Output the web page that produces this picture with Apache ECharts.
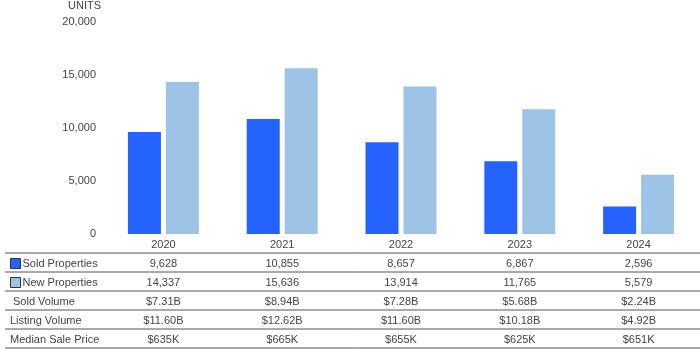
<!DOCTYPE html>
<html>
<head>
<meta charset="utf-8">
<script src="https://cdn.jsdelivr.net/npm/echarts@6/dist/echarts.min.js"></script>
<style>
  html, body { margin: 0; padding: 0; background: #fff; }
  #chart { width: 700px; height: 350px; }
</style>
</head>
<body>
<div id="chart"></div>
<script>
// Yearly housing summary: unit counts plotted as bars, with a data table below.
const years = ['2020', '2021', '2022', '2023', '2024'];
const soldProperties = [9628, 10855, 8657, 6867, 2596];
const newProperties = [14337, 15636, 13914, 11765, 5579];
const soldVolume = ['$7.31B', '$8.94B', '$7.28B', '$5.68B', '$2.24B'];
const listingVolume = ['$11.60B', '$12.62B', '$11.60B', '$10.18B', '$4.92B'];
const medianSalePrice = ['$635K', '$665K', '$655K', '$625K', '$651K'];
const yTicks = { min: 0, max: 20000, interval: 5000 };
const extraRowTitles = ['Sold Volume', 'Listing Volume', 'Median Sale Price'];

const FONT = 'Arial, "Liberation Sans", sans-serif';
const TEXT = '#444';
const SOLD_COLOR = '#2563FF';
const NEW_COLOR = '#9DC3E6';
const ROW_H = 19;
const fmt = v => v.toLocaleString('en-US');

const tableRows = [
  soldProperties.map(fmt),
  newProperties.map(fmt),
  soldVolume,
  listingVolume,
  medianSalePrice
];

function rowAxis(values, idx) {
  return {
    type: 'category',
    gridIndex: 0,
    position: 'bottom',
    offset: ROW_H * (idx + 1),
    data: values,
    axisLine: { show: false },
    axisTick: { show: false },
    axisLabel: {
      margin: 11, verticalAlign: 'middle', fontSize: 11,
      color: TEXT, fontFamily: FONT, interval: 0
    }
  };
}

const chart = echarts.init(document.getElementById('chart'), null, { renderer: 'canvas' });

// horizontal rules of the table
const ruleTop = 253;
const rules = [];
for (let i = 0; i <= tableRows.length; i++) {
  rules.push({
    type: 'line',
    shape: { x1: 5, y1: ruleTop + i * ROW_H, x2: 700, y2: ruleTop + i * ROW_H },
    style: { stroke: '#555', lineWidth: 1 },
    silent: true
  });
}
const titleX = [13, 10, 10];
const titles = extraRowTitles.map((t, i) => ({
  type: 'text',
  x: titleX[i],
  y: ruleTop + (i + 2) * ROW_H + ROW_H / 2 + 1.5,
  style: { text: t, fill: TEXT, font: '11px ' + FONT, verticalAlign: 'middle', align: 'left' },
  silent: true
}));

chart.setOption({
  animation: false,
  textStyle: { fontFamily: FONT },
  grid: { left: 104, right: 2, top: 20, bottom: 116 },
  legend: {
    orient: 'vertical',
    left: 10,
    top: 258,
    padding: 0,
    itemWidth: 10,
    itemHeight: 10,
    itemGap: 8,
    icon: 'rect',
    itemStyle: { borderColor: '#333', borderWidth: 1 },
    textStyle: { fontSize: 11, color: TEXT, fontFamily: FONT, padding: [0, 0, 0, -3] },
    data: ['Sold Properties', 'New Properties']
  },
  xAxis: [
    {
      type: 'category',
      gridIndex: 0,
      data: years,
      axisLine: { show: false },
      axisTick: { show: false },
      axisLabel: { margin: 11, verticalAlign: 'middle', fontSize: 11, color: TEXT, fontFamily: FONT }
    }
  ].concat(tableRows.map(rowAxis)),
  yAxis: {
    type: 'value',
    min: yTicks.min,
    max: yTicks.max,
    interval: yTicks.interval,
    name: 'UNITS',
    nameLocation: 'end',
    nameGap: 11,
    nameTextStyle: { fontSize: 11, color: TEXT, fontFamily: FONT, align: 'right', padding: [0, 3, 0, 0] },
    axisLine: { show: false },
    axisTick: { show: false },
    splitLine: { show: false },
    axisLabel: { margin: 8, fontSize: 11, color: TEXT, fontFamily: FONT, formatter: v => fmt(v) }
  },
  series: [
    {
      name: 'Sold Properties', type: 'bar', xAxisIndex: 0,
      data: soldProperties, barWidth: 33, barGap: '15%',
      itemStyle: { color: SOLD_COLOR }
    },
    {
      name: 'New Properties', type: 'bar', xAxisIndex: 0,
      data: newProperties, barWidth: 33, barGap: '15%',
      itemStyle: { color: NEW_COLOR }
    }
  ],
  graphic: rules.concat(titles)
});
</script>
</body>
</html>
